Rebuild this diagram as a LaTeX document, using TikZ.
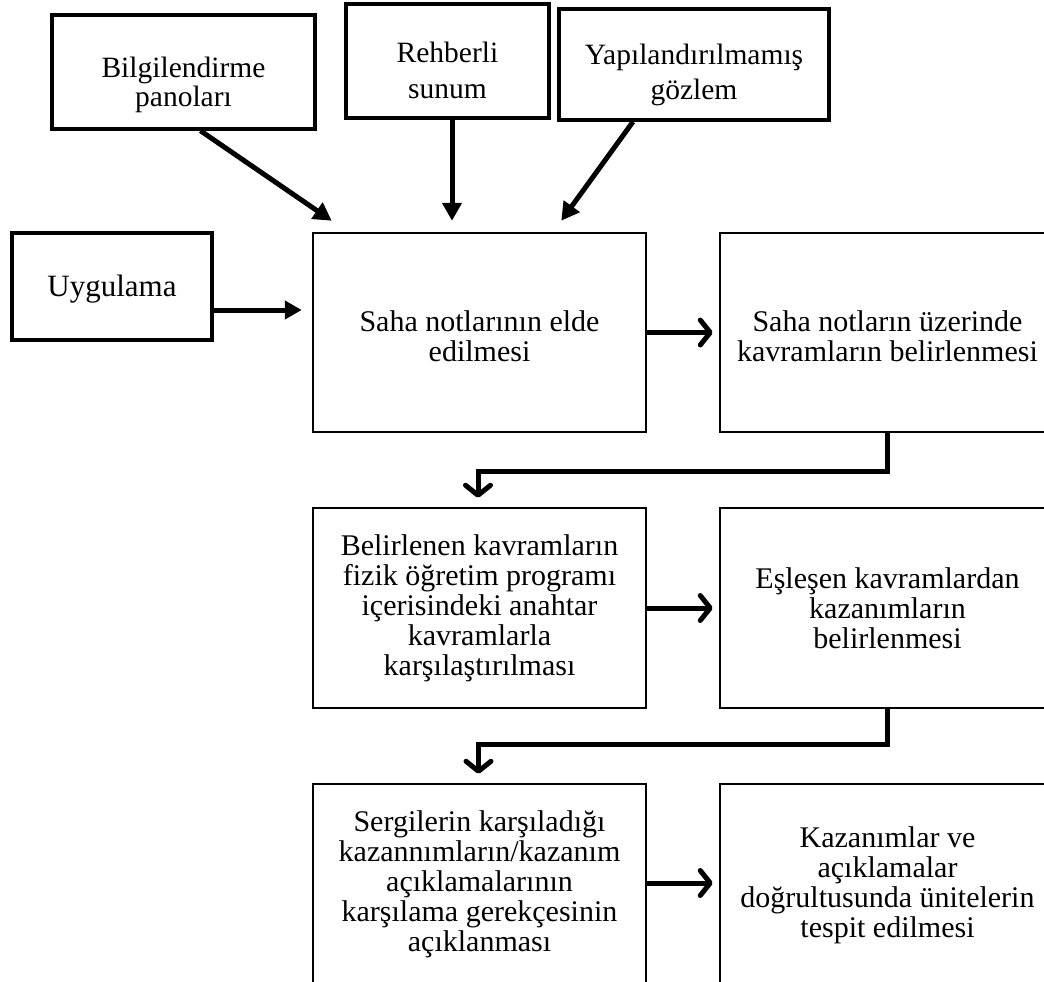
\documentclass[tikz,border=0pt]{standalone}
\usepackage{fontspec}
\setmainfont{Liberation Serif}
\usetikzlibrary{arrows.meta}
\newcommand{\topgap}[1]{\rule{0pt}{#1}}
\begin{document}
\begin{tikzpicture}[x=1pt,y=-1pt,
  box/.style={draw,line width=2.5pt,align=center,inner sep=0pt,
    font=\fontsize{30}{30}\selectfont},
  inbox/.style={box,line width=3.5pt},
  solidarrow/.style={line width=5pt,-{Triangle[length=18pt,width=19pt]}},
  chevarrow/.style={line width=5pt,-{Straight Barb[length=10pt,width=25pt,round]}}
]
\useasboundingbox (0,0) rectangle (1044,982);
\begin{scope}
\clip (0,0) rectangle (1044,982);
% top inputs
\node[inbox,minimum width=263pt,minimum height=114pt,font=\fontsize{29.5}{29}\selectfont] (bil) at (183.5,72) {\topgap{47pt}Bilgilendirme\\panoları};
\node[inbox,minimum width=203pt,minimum height=114pt,font=\fontsize{29.5}{36}\selectfont] (reh) at (447.5,61) {\topgap{40pt}Rehberli\\sunum};
\node[inbox,minimum width=270pt,minimum height=111pt,font=\fontsize{29.5}{35}\selectfont] (yap) at (694,64.5) {\topgap{42pt}Yapılandırılmamış\\gözlem};
\node[inbox,minimum width=200pt,minimum height=107pt,font=\fontsize{31}{30}\selectfont] (uyg) at (112,286.5) {\topgap{27pt}Uygulama};
% main flow
\node[box,minimum width=333pt,minimum height=199pt] (s1) at (479.5,332.5) {\topgap{28pt}Saha notlarının elde\\edilmesi};
\node[box,minimum width=335pt,minimum height=199pt] (s2) at (887.5,332.5) {\topgap{28pt}Saha notların üzerinde\\kavramların belirlenmesi};
\node[box,minimum width=333pt,minimum height=200pt] (b1) at (479.5,608) {Belirlenen kavramların\\fizik öğretim programı\\içerisindeki anahtar\\kavramlarla\\karşılaştırılması};
\node[box,minimum width=335pt,minimum height=200pt] (b2) at (887.5,608) {Eşleşen kavramlardan\\kazanımların\\belirlenmesi};
\node[box,minimum width=333pt,minimum height=200pt] (c1) at (479.5,884) {Sergilerin karşıladığı\\kazannımların/kazanım\\açıklamalarının\\karşılama gerekçesinin\\açıklanması};
\node[box,minimum width=335pt,minimum height=200pt] (c2) at (887.5,884) {\topgap{24pt}Kazanımlar ve\\açıklamalar\\doğrultusunda ünitelerin\\tespit edilmesi};
% input arrows
\draw[solidarrow] ([xshift=17pt]bil.south) -- ([shift={(20pt,11pt)}]s1.north west);
\draw[solidarrow] ([xshift=4.5pt]reh.south) -- ([shift={(-27.5pt,11pt)}]s1.north);
\draw[solidarrow] ([xshift=-61pt]yap.south) -- ([shift={(-86pt,11pt)}]s1.north east);
\draw[line width=5pt,-{Triangle[length=17pt,width=18pt]},shorten >=10pt] ([yshift=-23.5pt]uyg.east) -- ([yshift=-23.5pt]uyg.east -| s1.west);
% flow arrows
\draw[chevarrow,shorten >=6pt] (s1.east) -- (s2.west);
\draw[chevarrow,shorten >=9pt,line join=miter] (s2.south) -- ++(0,38) -| ([xshift=-1.5pt]b1.north);
\draw[chevarrow,shorten >=6pt] (b1.east) -- (b2.west);
\draw[chevarrow,shorten >=9pt,line join=miter] (b2.south) -- ++(0,35) -| ([xshift=-1pt]c1.north);
\draw[chevarrow,shorten >=6pt] ([yshift=1pt]c1.east) -- ([yshift=1pt]c2.west);
\end{scope}
\end{tikzpicture}
\end{document}
